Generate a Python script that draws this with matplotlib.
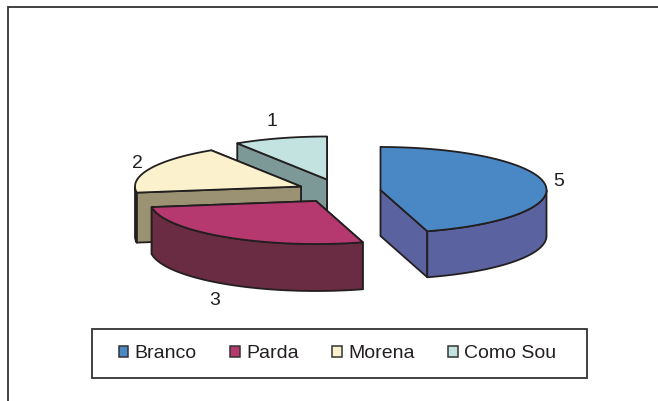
import numpy as np
import matplotlib
matplotlib.use("Agg")
import matplotlib.pyplot as plt
from matplotlib.patches import Patch, Rectangle

plt.rcParams['font.family'] = ['Liberation Sans', 'DejaVu Sans']

# Data
categories = ["Branco", "Parda", "Morena", "Como Sou"]
values = [5, 3, 2, 1]
top_colors = ["#4A87C5", "#B5386F", "#FBF2CD", "#C2E3DF"]
side_colors = ["#5A639F", "#6A2C42", "#9A9272", "#7C9897"]

# Layout (pixel space): apex of each exploded slice, label anchors
apex_x = [380.5, 316, 301, 327]
apex_y = [190, 201, 186.5, 179.5]
depths = [46, 47, 50, 47]
label_x = [559, 215, 137, 272]
label_y = [181.5, 300.5, 163, 121]
RX, RY = 166, 43
EDGE = "#231F20"

W, H = 658, 401
fig = plt.figure(figsize=(W / 100, H / 100), dpi=100, facecolor="white")
ax = fig.add_axes([0, 0, 1, 1])
ax.set_xlim(0, W)
ax.set_ylim(H, 0)
ax.axis("off")

# Outer frame (open on the right and the bottom)
ax.plot([7.5, 7.5, W], [H, 6.5, 6.5], color="#333333", lw=1.3, solid_joinstyle="miter")


def pt(cx, cy, deg):
    a = np.radians(deg)
    return cx + RX * np.cos(a), cy - RY * np.sin(a)


fracs = np.array(values, dtype=float) / sum(values)
ends = 90 - np.cumsum(fracs) * 360
starts = ends + fracs * 360

# Back slices first
for i in [3, 2, 1, 0]:
    cx, cy, d = apex_x[i], apex_y[i], depths[i]
    poly = dict(facecolor=side_colors[i], edgecolor=EDGE, lw=1.3, joinstyle="round")
    # radial walls, rear one first
    for ang in sorted([starts[i], ends[i]], key=lambda t: -np.sin(np.radians(t))):
        px, py = pt(cx, cy, ang)
        ax.fill([cx, px, px, cx], [cy, py, py + d, cy + d], **poly)
    # outer rim, only the part facing the viewer
    th = np.linspace(starts[i], ends[i], 200)
    front = th[np.sin(np.radians(th)) <= 0]
    if front.size > 1:
        xs, ys = pt(cx, cy, front)
        ax.fill(np.r_[xs, xs[::-1]], np.r_[ys, ys[::-1] + d], **poly)
    # top face
    xs, ys = pt(cx, cy, th)
    ax.fill(np.r_[cx, xs], np.r_[cy, ys], facecolor=top_colors[i], edgecolor=EDGE,
            lw=1.3, joinstyle="round")
    ax.text(label_x[i], label_y[i], str(values[i]), fontsize=14, color="#231F20",
            ha="center", va="center")

# Legend
ax.add_patch(Rectangle((91.5, 328.5), 495, 49, facecolor="white", edgecolor="#333333", lw=1.3))
handles = [Patch(facecolor=c, edgecolor="#333333", lw=1.1) for c in top_colors]
ax.legend(handles, categories, ncol=4, frameon=False, loc="center",
          bbox_to_anchor=(337.5, 354), bbox_transform=ax.transData,
          fontsize=14, labelcolor="#231F20", handlelength=0.5, handleheight=0.5,
          handletextpad=0.32, columnspacing=1.72, borderpad=0, borderaxespad=0)

fig.savefig("out.png", dpi=100)
